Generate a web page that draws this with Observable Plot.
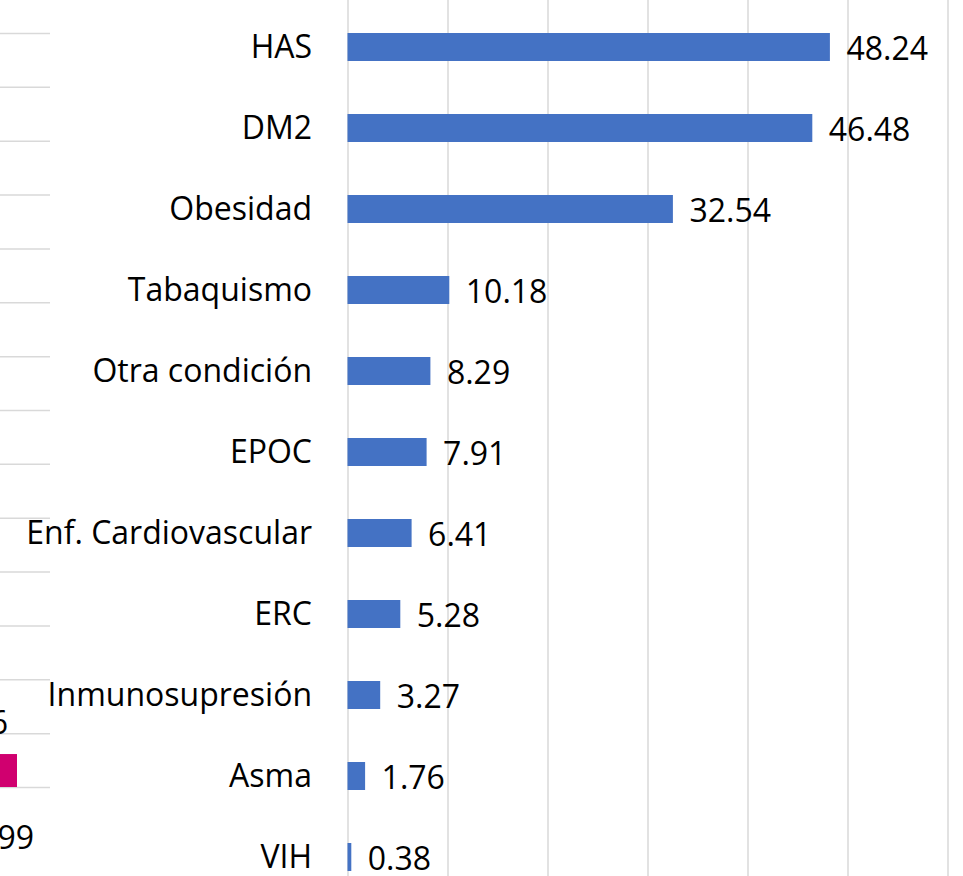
<!DOCTYPE html>
<html><head><meta charset="utf-8">
<script src="https://cdn.jsdelivr.net/npm/d3@7"></script>
<script src="https://cdn.jsdelivr.net/npm/@observablehq/plot@0.6"></script>
<style>
html,body{margin:0;padding:0;background:#fff;}
#wrap{position:relative;width:963px;height:876px;overflow:hidden;background:#fff;}
#left{position:absolute;left:-150px;top:0;width:200px;}
#right{position:absolute;left:0;top:0;width:963px;}
svg{max-width:none !important;}
</style></head><body>
<div id="wrap"><div id="left"></div><div id="right"></div></div>
<script>
// Main chart data
const categories = ["HAS","DM2","Obesidad","Tabaquismo","Otra condición","EPOC","Enf. Cardiovascular","ERC","Inmunosupresión","Asma","VIH"];
const values = [48.24,46.48,32.54,10.18,8.29,7.91,6.41,5.28,3.27,1.76,0.38];
const xTicks = [0,10,20,30,40,50,60];

// Fragment of the neighbouring chart (cut off at the left edge)
const leftCategories = ["1999"];
const leftValues = [3.06];
const leftTicks = [0,5,10,15,20,25,30,35,40,45,50,55,60,65,70];

const font = "'Open Sans', sans-serif";
const data = categories.map((c, i) => ({cat: c, value: values[i]}));
const leftData = leftCategories.map((c, i) => ({cat: c, value: leftValues[i]}));

const left = Plot.plot({
  width: 200, height: 876,
  marginLeft: 0, marginRight: 0, marginTop: 0, marginBottom: 0,
  style: {fontFamily: font, fontSize: "32px", background: "#fff", color: "black"},
  x: {domain: leftCategories, range: [85, 167], padding: 0, axis: null},
  y: {domain: [0, 70], range: [787, 33], axis: null},
  marks: [
    Plot.ruleY(leftTicks, {stroke: "#d9d9d9", strokeWidth: 1.5}),
    Plot.barY(leftData, {x: "cat", y: "value", fill: "#d0006f"}),
    Plot.text(leftData, {x: "cat", y: "value", text: d => d.value.toFixed(2), dy: -31, fontSize: 32, fill: "black"}),
    Plot.text(leftData, {x: "cat", y: d => 0, text: "cat", dx: 21, dy: 51, fontSize: 32, fill: "black"})
  ]
});
document.getElementById("left").appendChild(left);

const right = Plot.plot({
  width: 963, height: 876,
  marginLeft: 347.5, marginRight: 15.5, marginTop: 0, marginBottom: 0,
  style: {fontFamily: font, fontSize: "32px", background: "transparent", color: "black", overflow: "visible"},
  x: {domain: [0, 60], axis: null},
  y: {domain: categories, range: [6.5, 897.5], paddingInner: 0.654, paddingOuter: 0.327, align: 0.5, axis: null},
  marks: [
    Plot.ruleX(xTicks, {stroke: "#d9d9d9", strokeWidth: 1.5}),
    Plot.barX(data, {x: "value", y: "cat", fill: "#4472c4"}),
    Plot.text(data, {x: "value", y: "cat", text: d => d.value.toFixed(2), textAnchor: "start", dx: 16, dy: 2, fontSize: 32, fill: "black"}),
    Plot.axisY({tickSize: 0, tickPadding: 36, fontSize: 32, fill: "black", label: null})
  ]
});
document.getElementById("right").appendChild(right);
</script>
</body></html>
